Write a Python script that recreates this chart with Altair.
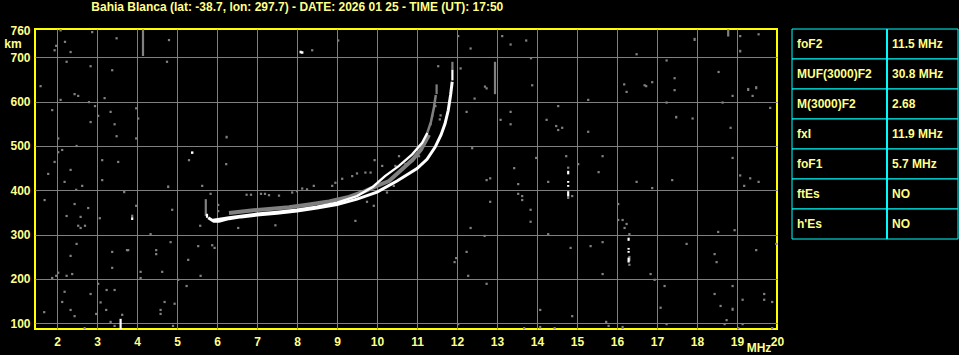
import altair as alt
import pandas as pd

# ---------------- text ----------------
title_text = "Bahia Blanca (lat: -38.7, lon: 297.7) - DATE: 2026 01 25 - TIME (UT): 17:50"
freq_ticks = list(range(2, 21))
height_ticks = [100, 200, 300, 400, 500, 600, 700, 760]

table_params = ["foF2", "MUF(3000)F2", "M(3000)F2", "fxI", "foF1", "ftEs", "h'Es"]
table_values = ["11.5 MHz", "30.8 MHz", "2.68", "11.9 MHz", "5.7 MHz", "NO", "NO"]

# ---------------- traces (MHz, km) ----------------
xtrace_f = [5.78, 5.92, 6.05, 6.3, 6.6, 7.0, 7.5, 8.0, 8.5, 9.0, 9.5, 10.0, 10.5, 11.0, 11.25, 11.45, 11.6, 11.7, 11.78, 11.84, 11.88]
xtrace_h = [338, 330, 330, 336, 340, 344, 348, 353, 360, 368, 380, 396, 421, 449, 470, 497, 525, 550, 580, 615, 645]

otrace_f = [5.9, 6.3, 7.0, 7.5, 8.0, 8.5, 9.0, 9.5, 9.9, 10.2, 10.55, 10.88, 11.13, 11.26]
otrace_h = [333, 339, 347, 351, 356, 363, 372, 387, 408, 432, 455, 481, 507, 530]

otail_f = [11.26, 11.35, 11.42, 11.47]
otail_h = [530, 555, 585, 615]

spread_f = [6.3, 6.8, 7.3, 7.8, 8.3, 8.8, 9.3, 9.7, 10.0, 10.3, 10.6, 10.9, 11.1, 11.3]
spread_h = [349, 354, 358, 362, 368, 375, 385, 398, 410, 421, 445, 470, 492, 525]

# ---------------- vertical streaks ----------------
streak_f = [4.15, 12.95, 11.49, 18.78, 17.94, 19.08, 19.28, 19.48, 17.48, 19.08, 18.89, 14.08, 16.14, 4.78, 6.24, 5.72, 3.88, 16.31, 11.885,
            5.75, 3.59, 3.88, 14.78, 14.78, 14.78, 14.78, 16.29, 16.29, 16.29, 16.29, 11.885, 8.09]
streak_lo = [703, 617, 617, 747, 737, 711, 624, 628, 562, 431, 128, 88, 87, 405, 517, 342, 339, 240, 672,
             338, 87, 333, 436, 417, 408, 386, 286, 266, 259, 237, 648, 709]
streak_hi = [763, 690, 639, 763, 744, 717, 631, 635, 568, 436, 135, 94, 94, 411, 523, 380, 345, 252, 690,
             347, 110, 339, 444, 421, 412, 398, 293, 270, 263, 248, 672, 715]
streak_kind = ["g"] * 19 + ["w"] * 13

# ---------------- isolated echoes / noise ----------------
gray_f = [2.09, 2.88, 3.49, 4.80, 2.20, 1.98, 1.94, 2.34, 2.24, 4.75, 2.84, 3.38, 1.59, 2.44, 2.53, 2.09, 3.19, 2.80, 2.95, 3.98,
          1.88, 3.34, 3.03, 4.03, 2.84, 3.44, 3.49, 2.03, 3.98, 2.49, 2.13, 2.03, 3.13, 3.53, 5.30, 1.94, 2.34, 1.78, 6.23, 3.13,
          2.19, 2.63, 2.48, 3.68, 1.69, 2.44, 2.78, 3.98, 4.88, 2.24, 2.59, 3.07, 2.53, 2.59, 2.70, 5.58, 6.53, 4.34, 2.49, 4.84,
          5.53, 5.88, 5.94, 3.75, 3.78, 3.38, 4.48, 4.48, 2.34, 5.28, 3.38, 4.63, 4.09, 2.03, 1.88, 1.98, 2.24, 2.38, 4.09, 5.03,
          5.59, 3.03, 5.24, 2.19, 3.24, 3.44, 2.84, 2.13, 3.09, 4.69, 4.94, 1.68, 2.34, 4.59, 3.23, 4.59, 2.44, 2.98, 3.63, 3.34,
          3.44, 4.90, 2.69,
          5.84, 6.03, 6.03, 5.63, 6.74, 6.85, 7.10, 7.20, 7.30, 7.55, 7.46,
          8.38, 9.03, 12.03, 12.34, 13.13, 13.34, 13.73, 13.85, 11.53, 12.09, 12.70, 12.74, 12.44, 13.88, 12.24, 13.34, 13.09, 13.34,
          12.38, 13.43, 12.83, 12.74, 13.53, 13.53, 13.63, 13.63, 12.83, 13.84, 13.84, 12.34, 12.69, 12.24, 11.98, 11.94, 12.28, 12.74,
          12.03, 13.68,
          9.94, 10.13, 10.55, 10.46, 9.38, 9.50, 9.71, 9.84, 9.13, 8.96, 8.88, 8.42, 8.25, 8.13, 8.00, 7.88, 9.75, 9.92, 9.46, 11.46,
          11.38, 11.59, 11.57, 11.34, 11.05, 10.88, 10.71, 10.42, 10.25,
          19.08, 19.54, 16.49, 17.24, 18.54, 16.18, 16.24, 16.69, 16.73, 16.88, 17.44, 17.44, 19.39, 18.89, 15.28, 17.24, 18.64, 19.83,
          14.53, 14.24, 14.48, 14.63, 14.53, 15.28, 17.89, 18.84, 14.73, 15.64, 18.89, 15.03, 15.54, 19.33, 19.54, 19.18, 14.28, 16.49,
          17.38, 16.88, 13.98, 14.78, 14.78, 14.88, 16.03, 16.03, 16.14, 16.24, 16.19, 14.28, 16.31, 18.53, 18.94, 15.34, 14.84, 15.64,
          17.74, 18.44, 18.49, 19.48, 19.98, 15.64, 16.84, 16.94, 17.19, 18.89, 18.44, 19.68, 19.14, 19.68, 19.88, 18.59, 17.09, 14.08,
          14.88, 15.73, 15.79, 18.74, 18.69, 17.24, 19.14, 14.44, 19.03, 19.88, 16.31]
gray_h = [761, 757, 743, 739, 735, 726, 716, 712, 690, 690, 680, 671, 635, 617, 613, 604, 608, 599, 590, 585,
          581, 577, 568, 562, 554, 549, 522, 517, 517, 500, 491, 486, 468, 464, 468, 464, 446, 437, 459, 423,
          419, 410, 401, 396, 378, 369, 360, 365, 356, 342, 340, 337, 320, 315, 320, 320, 315, 301, 279, 283,
          274, 276, 270, 265, 265, 261, 265, 256, 252, 243, 225, 216, 216, 214, 202, 207, 207, 211, 202, 198,
          207, 189, 184, 171, 175, 175, 166, 148, 147, 148, 144, 125, 130, 130, 130, 121, 116, 121, 119, 103,
          94, 94, 89,
          392, 367, 353, 410, 390, 390, 392, 392, 389, 388, 321,
          716, 738, 748, 720, 748, 729, 738, 698, 680, 675, 634, 630, 607, 637, 577, 577, 559, 549,
          495, 450, 427, 423, 414, 392, 387, 378, 374, 356, 329, 315, 297, 261, 247, 238, 207, 189,
          98, 89,
          468, 455, 477, 455, 432, 438, 440, 440, 426, 417, 410, 410, 402, 404, 398, 395, 374, 365, 331, 590,
          568, 569, 560, 549, 477, 466, 459, 410, 395,
          748, 752, 707, 693, 667, 639, 622, 637, 635, 644, 653, 626, 613, 613, 604, 598, 598, 586,
          590, 559, 545, 541, 536, 532, 562, 541, 477, 477, 473, 459, 441, 427, 419, 410, 419, 419,
          423, 405, 473, 451, 383, 387, 369, 333, 333, 324, 315, 301, 301, 306, 310, 274, 270, 283,
          279, 256, 238, 265, 279, 211, 211, 198, 184, 184, 166, 166, 153, 153, 148, 139, 135, 130,
          116, 103, 94, 107, 98, 98, 98, 89, 89, 89, 232]

white_f = [5.38, 8.13]
white_h = [485, 711]

# ---------------- styling ----------------
TXT = "#ffff88"
YEL = "#ffff00"
GRID = "#808080"
GRAY = "#808080"
CYAN = "#00ffff"
W, H = 742, 300

xscale = alt.Scale(domain=[1.45, 20], nice=False, zero=False)
yscale = alt.Scale(domain=[87, 764], nice=False, zero=False)
xaxis = alt.Axis(values=freq_ticks, format="d", title=None, grid=True, gridColor=GRID, gridWidth=1,
                 gridOpacity={"condition": {"test": "datum.value >= 20", "value": 0}, "value": 1},
                 ticks=False, domain=False, labelColor=TXT, labelFontSize=12, labelFontWeight="bold",
                 labelPadding=7, labelFlush=False)
yaxis = alt.Axis(values=height_ticks, format="d", title=None, grid=True, gridColor=GRID, gridWidth=1,
                 gridOpacity={"condition": {"test": "datum.value >= 760", "value": 0}, "value": 1},
                 ticks=False, domain=False, labelColor=TXT, labelFontSize=12, labelFontWeight="bold",
                 labelPadding=5, labelFlush=False)


def X(field):
    return alt.X(f"{field}:Q", scale=xscale, axis=xaxis)


def Y(field):
    return alt.Y(f"{field}:Q", scale=yscale, axis=yaxis)


streaks = pd.DataFrame({"f": streak_f, "lo": streak_lo, "hi": streak_hi, "kind": streak_kind})
streaks["col"] = streaks["kind"].map({"g": GRAY, "w": "#ffffff"})
gray_df = pd.DataFrame({"f": gray_f, "h": gray_h})
white_df = pd.DataFrame({"f": white_f, "h": white_h})
xt = pd.DataFrame({"f": xtrace_f, "h": xtrace_h, "i": range(len(xtrace_f))})
ot = pd.DataFrame({"f": otrace_f, "h": otrace_h, "i": range(len(otrace_f))})
tail = pd.DataFrame({"f": otail_f, "h": otail_h, "i": range(len(otail_f))})
spread = pd.DataFrame({"f": spread_f, "h": spread_h, "i": range(len(spread_f))})

gray_streaks = alt.Chart(streaks[streaks.kind == "g"]).mark_rule(strokeWidth=2.2).encode(
    x=X("f"), y=Y("lo"), y2="hi", color=alt.Color("col:N", scale=None))
white_streaks = alt.Chart(streaks[streaks.kind == "w"]).mark_rule(strokeWidth=2.2).encode(
    x=X("f"), y=Y("lo"), y2="hi", color=alt.Color("col:N", scale=None))
gray_pts = alt.Chart(gray_df).mark_square(size=5, color=GRAY, opacity=1).encode(x=X("f"), y=Y("h"))
white_pts = alt.Chart(white_df).mark_square(size=6, color="#ffffff", opacity=1).encode(x=X("f"), y=Y("h"))
spread_line = alt.Chart(spread).mark_line(color=GRAY, strokeWidth=4).encode(x=X("f"), y=Y("h"), order="i:Q")
tail_line = alt.Chart(tail).mark_line(color=GRAY, strokeWidth=2.5).encode(x=X("f"), y=Y("h"), order="i:Q")
x_line = alt.Chart(xt).mark_line(color="#ffffff", strokeWidth=3).encode(x=X("f"), y=Y("h"), order="i:Q")
o_line = alt.Chart(ot).mark_line(color="#ffffff", strokeWidth=2.4).encode(x=X("f"), y=Y("h"), order="i:Q")

km = alt.Chart(pd.DataFrame({"h": [730], "t": ["km"]})).mark_text(
    color=TXT, fontSize=12, fontWeight="bold", align="center", baseline="middle").encode(
    x=alt.value(-22), y=Y("h"), text="t:N")
mhz = alt.Chart(pd.DataFrame({"t": ["MHz"]})).mark_text(
    color=TXT, fontSize=12, fontWeight="bold", align="center", baseline="middle").encode(
    x=alt.value(724), y=alt.value(319), text="t:N")

main = alt.layer(gray_streaks, gray_pts, spread_line, tail_line, x_line, o_line,
                 white_streaks, white_pts, km, mhz).properties(
    width=W, height=H, view=alt.ViewBackground(stroke=YEL, strokeWidth=2))

# ---------------- table ----------------
tbl = pd.DataFrame({"row": list(range(len(table_params))), "param": table_params, "value": table_values})
TW, TH = 166, 210
row_enc = alt.Y("row:O", scale=alt.Scale(paddingInner=0, paddingOuter=0), axis=None)
cells = alt.Chart(tbl).mark_rect(fill="black", stroke=CYAN, strokeWidth=1).encode(
    y=row_enc, x=alt.value(0), x2=alt.value(TW))
divider = alt.Chart(tbl).mark_rule(color=CYAN, strokeWidth=1).encode(
    x=alt.value(95), y=alt.value(0), y2=alt.value(TH))
ptxt = alt.Chart(tbl).mark_text(align="left", baseline="middle", color=TXT, fontSize=12, fontWeight="bold").encode(
    y=row_enc, x=alt.value(5), text="param:N")
vtxt = alt.Chart(tbl).mark_text(align="left", baseline="middle", color=TXT, fontSize=12, fontWeight="bold").encode(
    y=row_enc, x=alt.value(100), text="value:N")
table = alt.layer(cells, divider, ptxt, vtxt).properties(width=TW, height=TH)

chart = alt.hconcat(main, table, spacing=6).properties(
    title=alt.TitleParams(text=title_text, anchor="start", dx=88, offset=10, fontSize=12,
                          fontWeight="bold", color=TXT),
    padding={"left": 3, "top": 0, "right": 0, "bottom": 0},
).configure(background="black", font="Liberation Sans").configure_view(strokeWidth=0)

chart.save("out.html", embed_options={"renderer": "svg", "actions": False})
